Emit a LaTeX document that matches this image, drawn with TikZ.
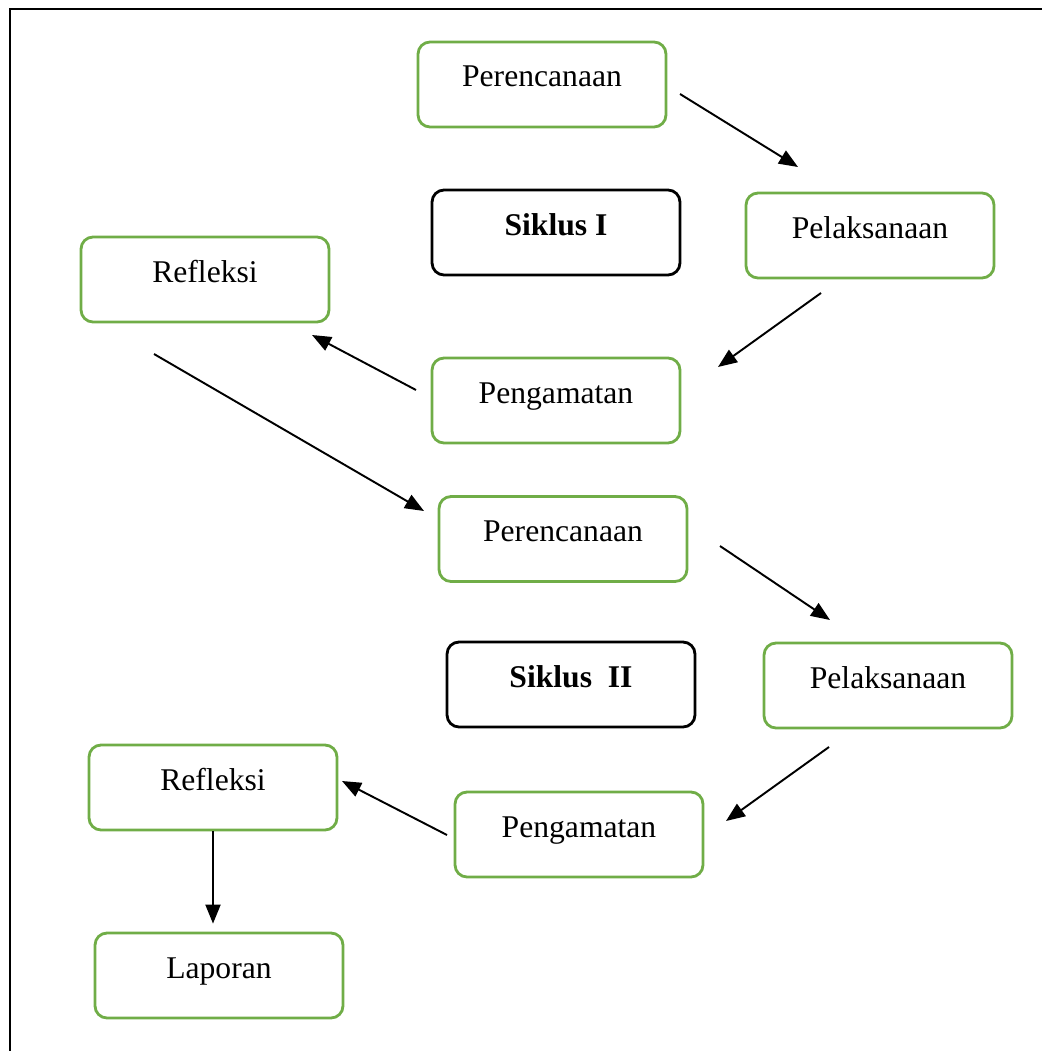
\documentclass[tikz,border=0pt]{standalone}
\usepackage{fontspec}
\setmainfont{Liberation Serif}
\usetikzlibrary{positioning,arrows.meta}

\definecolor{boxgreen}{RGB}{112,173,71}

\tikzset{
    stage/.style={draw=boxgreen, line width=1.6pt, rounded corners=0.24cm,
        minimum width=4.96cm, inner sep=0pt, text height=0.9cm, text depth=0.8cm,
        font=\fontsize{18}{21}\selectfont},
    cycle/.style={stage, draw=black, font=\fontsize{18}{21}\selectfont\bfseries},
    flow/.style={-{Triangle[length=0.38cm, width=0.3cm]}, line width=1.1pt}
}

\begin{document}
\begin{tikzpicture}[x=0.02cm, y=-0.02cm]

        \useasboundingbox (0,0) rectangle (1042,1051);

        % frame (cut at right and bottom)
        \draw[line width=1.5pt] (10,1051) -- (10,9) -- (1042,9);

        % first cycle
        \node[stage] (per1) at (542,84.5)  {Perencanaan};
        \node[cycle] (sik1) at (556,232.5) {Siklus I};
        \node[stage] (pel1) at (870,235.5) {Pelaksanaan};
        \node[stage] (ref1) at (205,279.5) {Refleksi};
        \node[stage] (pen1) at (556,400.5) {Pengamatan};

        % second cycle
        \node[stage] (per2) at (563,539)   {Perencanaan};
        \node[cycle] (sik2) at (571,684.5) {Siklus~ II};
        \node[stage] (pel2) at (888,685.5) {Pelaksanaan};
        \node[stage] (ref2) at (213,787.5) {Refleksi};
        \node[stage] (pen2) at (579,834.5) {Pengamatan};
        \node[stage] (lap)  at (219,975.5) {Laporan};

        % free ends of the arrows
        \coordinate (per1-out) at (680,94);
        \coordinate (pel1-in)  at (798,167);
        \coordinate (pel1-out) at (821,293);
        \coordinate (pen1-in)  at (718,367);
        \coordinate (pen1-out) at (416,390);
        \coordinate (ref1-in)  at (312,335);
        \coordinate (ref1-out) at (154,354);
        \coordinate (per2-in)  at (424,511);
        \coordinate (per2-out) at (720,546);
        \coordinate (pel2-in)  at (830,620);
        \coordinate (pel2-out) at (829,747);
        \coordinate (pen2-in)  at (726,821);
        \coordinate (pen2-out) at (447,835);
        \coordinate (ref2-in)  at (342,781);

        \draw[flow] (per1-out) -- (pel1-in);
        \draw[flow] (pel1-out) -- (pen1-in);
        \draw[flow] (pen1-out) -- (ref1-in);
        \draw[flow] (ref1-out) -- (per2-in);
        \draw[flow] (per2-out) -- (pel2-in);
        \draw[flow] (pel2-out) -- (pen2-in);
        \draw[flow] (pen2-out) -- (ref2-in);
        \draw[flow, shorten >=0.16cm] (ref2.south) -- (ref2.south |- lap.north);

\end{tikzpicture}
\end{document}
